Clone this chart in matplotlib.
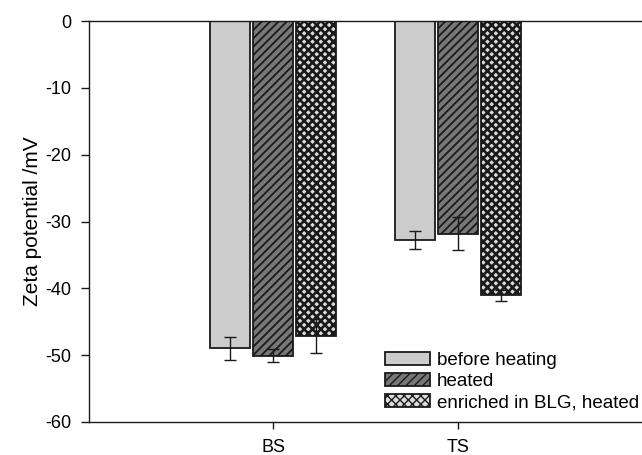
import matplotlib
matplotlib.use("Agg")
import matplotlib.pyplot as plt
import numpy as np

samples = ["BS", "TS"]
series = ["before heating", "heated", "enriched in BLG, heated"]
before_mean = [-49.0, -32.8]
before_err = [1.65, 1.35]
heated_mean = [-50.05, -31.85]
heated_err = [0.9, 2.45]
enriched_mean = [-47.1, -41.05]
enriched_err = [2.55, 0.8]
yticks = [0, -10, -20, -30, -40, -50, -60]

plt.rcParams['font.family'] = ['Liberation Sans', 'DejaVu Sans']

fig = plt.figure(figsize=(6.42, 4.55), dpi=100)
ax = fig.add_axes([89/642, 33/455, 1 - 89/642, 401/455])

x = np.arange(1, len(samples) + 1)
w = 0.217
step = 0.233
styles = [
    dict(facecolor="#cccccc", hatch=None, hlw=1.0),
    dict(facecolor="#777777", hatch="////", hlw=1.3),
    dict(facecolor="#dddddd", hatch="xxxx", hlw=1.9),
]
means = [before_mean, heated_mean, enriched_mean]
errs = [before_err, heated_err, enriched_err]
for i, (m, e, st, lab) in enumerate(zip(means, errs, styles, series)):
    pos = x + (i - 1) * step
    with plt.rc_context({'hatch.linewidth': st["hlw"]}):
        ax.bar(pos, m, width=w, facecolor=st["facecolor"], hatch=st["hatch"],
               edgecolor="#1a1a1a", linewidth=1.3, label=lab, zorder=2)
    ax.errorbar(pos, m, yerr=e, fmt="none", ecolor="#1a1a1a",
                elinewidth=1.0, capsize=4.5, capthick=1.0, zorder=3)

ax.set_xlim(0, 3)
ax.set_ylim(-60, 0)
ax.set_yticks(yticks)
ax.set_yticklabels([str(t) for t in yticks])
ax.set_xticks(x)
ax.set_xticklabels(samples)
ax.tick_params(axis="both", direction="out", labelsize=13, color="#1a1a1a")
ax.tick_params(axis="y", length=6, width=1, pad=7)
ax.tick_params(axis="x", length=5, width=1, pad=7)
ax.set_ylabel("Zeta potential /mV", fontsize=15, labelpad=2)
ax.spines["right"].set_visible(False)
for s in ["left", "bottom", "top"]:
    ax.spines[s].set_linewidth(1.0)
    ax.spines[s].set_color("#1a1a1a")

leg = ax.legend(loc="lower left", bbox_to_anchor=((385 - 89) / 553, 11 / 401),
                frameon=False, fontsize=13.5, handlelength=2.4, handleheight=0.7,
                labelspacing=0.2, handletextpad=0.38, borderaxespad=0.0,
                borderpad=0.0)

fig.savefig("out.png", dpi=100)
